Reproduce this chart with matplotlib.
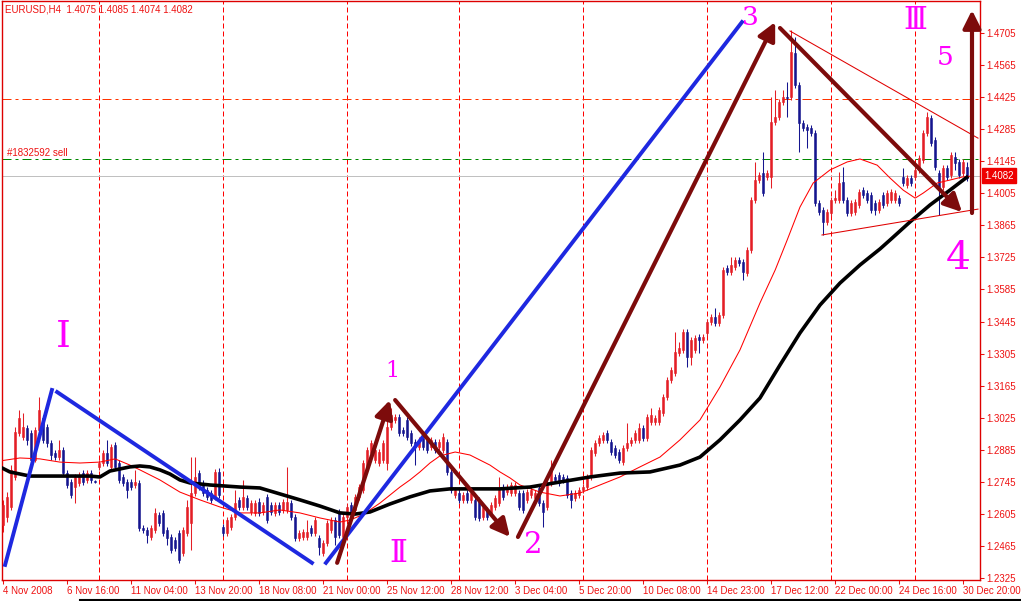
import numpy as np
import matplotlib
matplotlib.use('Agg')
import matplotlib.pyplot as plt
from matplotlib.lines import Line2D
from matplotlib.transforms import blended_transform_factory

plt.rcParams['font.family'] = ['Liberation Sans', 'DejaVu Sans']

# EURUSD H4 candles, 4 Nov 2008 .. 30 Dec 2008
opens = np.array([
    1.2557, 1.2592, 1.2635, 1.2766, 1.2958, 1.2940, 1.2980, 1.2958, 1.2840, 1.2971,
    1.3023, 1.2984, 1.2914, 1.2871, 1.2853, 1.2884, 1.2784, 1.2744, 1.2722, 1.2740,
    1.2784, 1.2753, 1.2784, 1.2749, 1.2810, 1.2827, 1.2871, 1.2810, 1.2906, 1.2827,
    1.2766, 1.2744, 1.2744, 1.2731, 1.2740, 1.2543, 1.2535, 1.2504, 1.2535, 1.2600,
    1.2609, 1.2535, 1.2504, 1.2491, 1.2522, 1.2434, 1.2522, 1.2565, 1.2696, 1.2784,
    1.2740, 1.2709, 1.2696, 1.2679, 1.2788, 1.2548, 1.2522, 1.2548, 1.2592, 1.2666,
    1.2635, 1.2674, 1.2613, 1.2609, 1.2657, 1.2613, 1.2679, 1.2644, 1.2609, 1.2644,
    1.2622, 1.2622, 1.2653, 1.2592, 1.2500, 1.2504, 1.2504, 1.2543, 1.2522, 1.2500,
    1.2434, 1.2478, 1.2535, 1.2578, 1.2613, 1.2504, 1.2592, 1.2644, 1.2622, 1.2679,
    1.2709, 1.2797, 1.2871, 1.2840, 1.2827, 1.2840, 1.2827, 1.2984, 1.3015, 1.3028,
    1.2971, 1.3015, 1.2958, 1.2919, 1.2897, 1.2936, 1.2928, 1.2897, 1.2919, 1.2897,
    1.2884, 1.2919, 1.2788, 1.2687, 1.2696, 1.2666, 1.2696, 1.2666, 1.2666, 1.2666,
    1.2592, 1.2622, 1.2609, 1.2635, 1.2653, 1.2722, 1.2701, 1.2696, 1.2696, 1.2696,
    1.2696, 1.2666, 1.2687, 1.2674, 1.2718, 1.2653, 1.2635, 1.2740, 1.2766, 1.2775,
    1.2766, 1.2762, 1.2696, 1.2674, 1.2687, 1.2709, 1.2722, 1.2766, 1.2871, 1.2914,
    1.2928, 1.2958, 1.2919, 1.2893, 1.2875, 1.2831, 1.2893, 1.2914, 1.2928, 1.2928,
    1.2980, 1.2936, 1.3006, 1.3006, 1.3006, 1.3045, 1.3115, 1.3190, 1.3220, 1.3307,
    1.3321, 1.3399, 1.3290, 1.3321, 1.3377, 1.3364, 1.3395, 1.3443, 1.3465, 1.3438,
    1.3473, 1.3679, 1.3661, 1.3683, 1.3714, 1.3705, 1.3657, 1.3757, 1.3976, 1.4063,
    1.4094, 1.4076, 1.4076, 1.4316, 1.4338, 1.4403, 1.4425, 1.4425, 1.4618, 1.4478,
    1.4312, 1.4294, 1.4290, 1.4268, 1.3962, 1.3932, 1.3880, 1.3919, 1.3976, 1.3976,
    1.4054, 1.3976, 1.3919, 1.3923, 1.3954, 1.4019, 1.4006, 1.3997, 1.3962, 1.3932,
    1.3997, 1.3962, 1.3976, 1.3976, 1.3984, 1.4076, 1.4041, 1.4072, 1.4076, 1.4107,
    1.4150, 1.4268, 1.4334, 1.4237, 1.4094, 1.4032, 1.4115, 1.4085, 1.4163, 1.4142,
    1.4094, 1.4120, 1.4075])
highs = np.array([
    1.2666, 1.2701, 1.2818, 1.2984, 1.3058, 1.3045, 1.2993, 1.2971, 1.2984, 1.3115,
    1.3036, 1.2997, 1.2928, 1.2884, 1.2928, 1.2897, 1.2797, 1.2757, 1.2779, 1.2788,
    1.2797, 1.2797, 1.2797, 1.2753, 1.2840, 1.2884, 1.2928, 1.2910, 1.2919, 1.2840,
    1.2779, 1.2757, 1.2757, 1.2797, 1.2753, 1.2557, 1.2548, 1.2557, 1.2631, 1.2613,
    1.2622, 1.2548, 1.2517, 1.2504, 1.2535, 1.2548, 1.2666, 1.2853, 1.2853, 1.2797,
    1.2753, 1.2722, 1.2709, 1.2801, 1.2805, 1.2561, 1.2592, 1.2605, 1.2709, 1.2679,
    1.2753, 1.2687, 1.2666, 1.2666, 1.2674, 1.2657, 1.2692, 1.2657, 1.2657, 1.2657,
    1.2670, 1.2810, 1.2666, 1.2605, 1.2535, 1.2539, 1.2578, 1.2557, 1.2592, 1.2513,
    1.2491, 1.2578, 1.2592, 1.2592, 1.2626, 1.2605, 1.2648, 1.2657, 1.2692, 1.2736,
    1.2840, 1.2897, 1.2928, 1.2897, 1.2888, 1.2928, 1.3080, 1.3067, 1.3041, 1.3041,
    1.2984, 1.3028, 1.2971, 1.2932, 1.2940, 1.2949, 1.2940, 1.2940, 1.2932, 1.2932,
    1.2958, 1.2932, 1.2801, 1.2722, 1.2709, 1.2701, 1.2709, 1.2709, 1.2679, 1.2679,
    1.2648, 1.2635, 1.2657, 1.2687, 1.2766, 1.2736, 1.2736, 1.2744, 1.2744, 1.2709,
    1.2709, 1.2714, 1.2722, 1.2709, 1.2731, 1.2666, 1.2753, 1.2840, 1.2779, 1.2788,
    1.2779, 1.2775, 1.2709, 1.2709, 1.2722, 1.2736, 1.2779, 1.2897, 1.2928, 1.2949,
    1.2962, 1.2971, 1.2932, 1.2906, 1.2888, 1.2906, 1.3002, 1.2940, 1.2971, 1.3002,
    1.2993, 1.3041, 1.3067, 1.3036, 1.3071, 1.3128, 1.3203, 1.3246, 1.3399, 1.3356,
    1.3412, 1.3412, 1.3377, 1.3386, 1.3390, 1.3390, 1.3456, 1.3478, 1.3504, 1.3487,
    1.3683, 1.3692, 1.3727, 1.3727, 1.3727, 1.3718, 1.3770, 1.3989, 1.4142, 1.4098,
    1.4185, 1.4107, 1.4425, 1.4456, 1.4417, 1.4456, 1.4491, 1.4718, 1.4687, 1.4491,
    1.4325, 1.4307, 1.4303, 1.4281, 1.3976, 1.3945, 1.3936, 1.3989, 1.4019, 1.4098,
    1.4120, 1.3989, 1.3976, 1.3980, 1.4024, 1.4032, 1.4019, 1.4011, 1.3976, 1.3980,
    1.4011, 1.4019, 1.4024, 1.4019, 1.3997, 1.4115, 1.4085, 1.4085, 1.4120, 1.4172,
    1.4281, 1.4360, 1.4347, 1.4251, 1.4107, 1.4128, 1.4128, 1.4185, 1.4185, 1.4155,
    1.4155, 1.4142, 1.4085])
lows = np.array([
    1.2526, 1.2570, 1.2622, 1.2753, 1.2945, 1.2928, 1.2906, 1.2827, 1.2831, 1.2958,
    1.2914, 1.2897, 1.2840, 1.2840, 1.2840, 1.2770, 1.2718, 1.2674, 1.2653, 1.2727,
    1.2731, 1.2740, 1.2740, 1.2740, 1.2797, 1.2814, 1.2814, 1.2797, 1.2797, 1.2740,
    1.2727, 1.2674, 1.2709, 1.2718, 1.2530, 1.2522, 1.2478, 1.2491, 1.2522, 1.2552,
    1.2508, 1.2469, 1.2434, 1.2443, 1.2391, 1.2421, 1.2508, 1.2447, 1.2683, 1.2709,
    1.2683, 1.2666, 1.2653, 1.2666, 1.2674, 1.2508, 1.2508, 1.2535, 1.2578, 1.2622,
    1.2622, 1.2622, 1.2600, 1.2596, 1.2596, 1.2600, 1.2565, 1.2600, 1.2596, 1.2600,
    1.2609, 1.2609, 1.2578, 1.2487, 1.2487, 1.2491, 1.2491, 1.2508, 1.2508, 1.2425,
    1.2421, 1.2465, 1.2522, 1.2469, 1.2500, 1.2491, 1.2578, 1.2596, 1.2609, 1.2666,
    1.2696, 1.2784, 1.2858, 1.2827, 1.2814, 1.2827, 1.2797, 1.2971, 1.3002, 1.2945,
    1.2945, 1.2928, 1.2901, 1.2818, 1.2884, 1.2884, 1.2871, 1.2884, 1.2871, 1.2884,
    1.2871, 1.2775, 1.2696, 1.2674, 1.2653, 1.2653, 1.2653, 1.2653, 1.2578, 1.2574,
    1.2578, 1.2578, 1.2596, 1.2622, 1.2639, 1.2666, 1.2687, 1.2683, 1.2683, 1.2622,
    1.2609, 1.2653, 1.2674, 1.2661, 1.2639, 1.2548, 1.2622, 1.2727, 1.2740, 1.2727,
    1.2740, 1.2674, 1.2631, 1.2661, 1.2674, 1.2696, 1.2709, 1.2753, 1.2858, 1.2901,
    1.2914, 1.2914, 1.2862, 1.2849, 1.2827, 1.2818, 1.2880, 1.2901, 1.2914, 1.2914,
    1.2923, 1.2923, 1.2993, 1.2993, 1.2993, 1.3032, 1.3102, 1.3176, 1.3207, 1.3294,
    1.3307, 1.3246, 1.3255, 1.3307, 1.3307, 1.3351, 1.3382, 1.3430, 1.3425, 1.3425,
    1.3460, 1.3648, 1.3648, 1.3670, 1.3687, 1.3626, 1.3644, 1.3744, 1.3962, 1.4050,
    1.3993, 1.4063, 1.4028, 1.4303, 1.4325, 1.4390, 1.4338, 1.4412, 1.4465, 1.4185,
    1.4277, 1.4203, 1.4255, 1.3949, 1.3910, 1.3823, 1.3866, 1.3906, 1.3962, 1.3962,
    1.3962, 1.3906, 1.3906, 1.3910, 1.3941, 1.3984, 1.3962, 1.3919, 1.3910, 1.3919,
    1.3941, 1.3949, 1.3962, 1.3962, 1.3949, 1.4037, 1.4028, 1.4037, 1.4063, 1.4094,
    1.4137, 1.4255, 1.4211, 1.4107, 1.3910, 1.4019, 1.4063, 1.4072, 1.4107, 1.4072,
    1.4081, 1.4059, 1.4074])
closes = np.array([
    1.2644, 1.2679, 1.2797, 1.2962, 1.3023, 1.2984, 1.2928, 1.2840, 1.2971, 1.3058,
    1.2928, 1.2914, 1.2862, 1.2853, 1.2884, 1.2784, 1.2731, 1.2687, 1.2766, 1.2775,
    1.2744, 1.2784, 1.2753, 1.2744, 1.2827, 1.2871, 1.2827, 1.2897, 1.2810, 1.2753,
    1.2740, 1.2709, 1.2722, 1.2744, 1.2543, 1.2535, 1.2513, 1.2543, 1.2609, 1.2565,
    1.2522, 1.2500, 1.2447, 1.2456, 1.2404, 1.2535, 1.2635, 1.2696, 1.2766, 1.2722,
    1.2696, 1.2679, 1.2666, 1.2788, 1.2687, 1.2522, 1.2578, 1.2592, 1.2653, 1.2635,
    1.2679, 1.2635, 1.2653, 1.2653, 1.2609, 1.2644, 1.2578, 1.2613, 1.2644, 1.2613,
    1.2657, 1.2657, 1.2592, 1.2500, 1.2522, 1.2526, 1.2526, 1.2522, 1.2578, 1.2460,
    1.2478, 1.2565, 1.2578, 1.2504, 1.2513, 1.2592, 1.2635, 1.2609, 1.2679, 1.2722,
    1.2827, 1.2884, 1.2914, 1.2884, 1.2875, 1.2914, 1.2984, 1.3036, 1.3028, 1.2958,
    1.2958, 1.2940, 1.2914, 1.2897, 1.2928, 1.2897, 1.2884, 1.2928, 1.2884, 1.2919,
    1.2940, 1.2788, 1.2709, 1.2709, 1.2666, 1.2687, 1.2666, 1.2696, 1.2592, 1.2587,
    1.2635, 1.2592, 1.2644, 1.2674, 1.2709, 1.2679, 1.2722, 1.2731, 1.2731, 1.2635,
    1.2622, 1.2701, 1.2709, 1.2696, 1.2653, 1.2613, 1.2740, 1.2797, 1.2753, 1.2740,
    1.2753, 1.2687, 1.2666, 1.2696, 1.2709, 1.2722, 1.2766, 1.2884, 1.2914, 1.2936,
    1.2949, 1.2928, 1.2875, 1.2862, 1.2840, 1.2893, 1.2914, 1.2928, 1.2958, 1.2980,
    1.2936, 1.3028, 1.3036, 1.3023, 1.3058, 1.3115, 1.3190, 1.3233, 1.3312, 1.3329,
    1.3399, 1.3290, 1.3364, 1.3373, 1.3364, 1.3377, 1.3443, 1.3465, 1.3438, 1.3473,
    1.3670, 1.3661, 1.3692, 1.3714, 1.3700, 1.3661, 1.3757, 1.3976, 1.4063, 1.4085,
    1.4006, 1.4094, 1.4316, 1.4338, 1.4403, 1.4425, 1.4421, 1.4622, 1.4478, 1.4312,
    1.4290, 1.4281, 1.4268, 1.3962, 1.3923, 1.3880, 1.3923, 1.3976, 1.3984, 1.4050,
    1.3976, 1.3919, 1.3962, 1.3967, 1.4011, 1.3997, 1.3976, 1.3932, 1.3932, 1.3967,
    1.3954, 1.4006, 1.4011, 1.4006, 1.3962, 1.4050, 1.4072, 1.4050, 1.4107, 1.4159,
    1.4268, 1.4338, 1.4224, 1.4120, 1.4032, 1.4115, 1.4076, 1.4172, 1.4137, 1.4085,
    1.4142, 1.4072, 1.4082])

# moving averages (thin red = fast, thick black = slow), sampled along the bars
ma_fast_x = [-0.7, 4.3, 9.3, 14.3, 19.3, 24.3, 28.1, 31.8, 34.3, 39.3, 44.3, 49.3,
             54.3, 59.3, 64.3, 69.3, 74.3, 79.3, 84.3, 86.8, 89.3, 91.8, 94.3, 96.8,
             99.3, 101.8, 104.3, 106.8, 109.3, 113.1, 116.8, 119.3, 121.8, 124.3,
             126.8, 129.3, 134.3, 139.3, 144.3, 149.3, 154.3, 159.3, 164.3, 169.3,
             174.3, 179.3, 184.3, 189.3, 193.1, 196.1, 199.3, 202.6, 206.8, 211.1,
             214.3, 218.6, 221.8, 225.1, 228.1, 230.1, 233.6, 236.8, 239.8, 242.0]
ma_fast_y = [1.2836, 1.2849, 1.2845, 1.2831, 1.2827, 1.2831, 1.2845, 1.2818, 1.2797,
             1.2753, 1.2700, 1.2666, 1.2635, 1.2609, 1.2609, 1.2622, 1.2609, 1.2587,
             1.2569, 1.2578, 1.2596, 1.2622, 1.2652, 1.2687, 1.2722, 1.2753, 1.2788,
             1.2827, 1.2858, 1.2875, 1.2862, 1.2840, 1.2818, 1.2788, 1.2762, 1.2731,
             1.2700, 1.2683, 1.2696, 1.2731, 1.2766, 1.2810, 1.2853, 1.2928, 1.3015,
             1.3159, 1.3321, 1.3526, 1.3670, 1.3801, 1.3945, 1.4050, 1.4107, 1.4142,
             1.4155, 1.4128, 1.4072, 1.4019, 1.3984, 1.4006, 1.4050, 1.4063, 1.4076,
             1.4080]
ma_slow_x = [-0.7, 1.8, 6.8, 14.3, 21.8, 24.3, 26.8, 31.8, 34.3, 36.8, 39.3, 41.8,
             44.3, 46.8, 51.8, 59.3, 64.3, 69.3, 74.3, 79.3, 84.3, 88.1, 91.8, 96.8,
             101.8, 106.8, 111.8, 124.3, 131.8, 139.3, 146.8, 154.3, 161.8, 169.3,
             174.3, 179.3, 184.3, 189.3, 194.3, 199.3, 204.3, 209.3, 214.3, 219.3,
             221.8, 226.8, 231.8, 236.8, 241.0]
ma_slow_y = [1.2810, 1.2788, 1.2770, 1.2770, 1.2770, 1.2766, 1.2792, 1.2810, 1.2814,
             1.2810, 1.2797, 1.2779, 1.2753, 1.2740, 1.2731, 1.2722, 1.2718, 1.2692,
             1.2666, 1.2639, 1.2609, 1.2604, 1.2613, 1.2648, 1.2679, 1.2705, 1.2714,
             1.2714, 1.2722, 1.2744, 1.2766, 1.2783, 1.2788, 1.2818, 1.2853, 1.2928,
             1.3015, 1.3111, 1.3255, 1.3395, 1.3517, 1.3613, 1.3692, 1.3762, 1.3801,
             1.3880, 1.3954, 1.4019, 1.4075]

tick_bars = list(range(0, 241, 16))
tick_labels = ['4 Nov 2008', '6 Nov 16:00', '11 Nov 04:00', '13 Nov 20:00',
               '18 Nov 08:00', '21 Nov 00:00', '25 Nov 12:00', '28 Nov 12:00',
               '3 Dec 04:00', '5 Dec 20:00', '10 Dec 08:00', '14 Dec 23:00',
               '17 Dec 12:00', '22 Dec 00:00', '24 Dec 16:00', '30 Dec 20:00']
week_bars = [24, 55, 86, 114, 145, 176, 207, 228]
price_ticks = [1.2325, 1.2465, 1.2605, 1.2745, 1.2885, 1.3025, 1.3165, 1.3305,
               1.3445, 1.3585, 1.3725, 1.3865, 1.4005, 1.4145, 1.4285, 1.4425,
               1.4565, 1.4705]

sell_level = 1.4155
tp_level = 1.4417
bid = 1.4082

# hand drawn objects: (bar0, price0, bar1, price1)
blue_lines = [(0.6, 1.2382, 12.3, 1.3146),
              (13.6, 1.3137, 77.3, 1.2391),
              (80.8, 1.2391, 184.8, 1.4753)]
wave_arrows = [(83.6, 1.2391, 96.8, 1.3102),
               (98.1, 1.3102, 126.8, 1.2504),
               (128.8, 1.2504, 193.1, 1.4753),
               (194.3, 1.4727, 239.8, 1.3923),
               (242.3, 1.3919, 242.3, 1.4805)]
triangle = [(196.8, 1.4714, 243.8, 1.4246),
            (204.8, 1.3823, 243.8, 1.3936)]
wave_marks = [('Ⅰ', 15.1, 1.3377, 27), ('1', 97.3, 1.3229, 16), ('Ⅱ', 98.8, 1.2430, 22),
              ('2', 132.6, 1.2469, 21), ('3', 186.8, 1.4775, 19), ('Ⅲ', 228.1, 1.4762, 22),
              ('5', 235.6, 1.4600, 19), ('4', 238.8, 1.3722, 28)]

red = '#ee1111'
bull = '#e41e26'
bear = '#15158f'
maroon = '#7d0b0b'

fig = plt.figure(figsize=(10.21, 6.01), dpi=100)
ax = fig.add_axes([2 / 1021, 21 / 601, 978 / 1021, 579 / 601])
ax.set_xlim(-0.175, 244.3)
ax.set_ylim(1.2316, 1.4845)

for b in week_bars:
    ax.axvline(b, color='#ff0000', lw=0.72, dashes=(5, 3), zorder=0)

ax.axhline(tp_level, color='#ff3300', lw=0.72, dashes=(9, 4, 3, 4), zorder=1)
ax.axhline(sell_level, color='#008800', lw=0.72, dashes=(9, 4, 3, 4), zorder=1)
ax.axhline(bid, color='#c0c0c0', lw=0.72, zorder=1)

bars = np.arange(len(closes))
colors = np.where(closes >= opens, bull, bear)
ax.vlines(bars, lows, highs, colors=colors, lw=0.75, zorder=2)
ax.bar(bars, np.abs(closes - opens), bottom=np.minimum(opens, closes), width=0.55,
       color=colors, edgecolor=colors, linewidth=0.4, zorder=3)

ax.plot(ma_fast_x, ma_fast_y, color='#ff0000', lw=0.75, zorder=4)
ax.plot(ma_slow_x, ma_slow_y, color='black', lw=2.6, zorder=4)

for x0, y0, x1, y1 in triangle:
    ax.plot([x0, x1], [y0, y1], color='#e00000', lw=0.75, zorder=5)
for x0, y0, x1, y1 in blue_lines:
    ax.plot([x0, x1], [y0, y1], color='#1e28e0', lw=2.8, zorder=5)
for x0, y0, x1, y1 in wave_arrows:
    ax.annotate('', xy=(x1, y1), xytext=(x0, y0),
                arrowprops=dict(arrowstyle='-|>,head_length=0.9,head_width=0.45',
                                color=maroon, lw=3, shrinkA=0, shrinkB=0,
                                mutation_scale=12), zorder=6)

for txt, x, y, size in wave_marks:
    ax.text(x, y, txt, color='#ff00ff', fontsize=size, ha='center', va='center',
            family=['DejaVu Serif', 'DejaVu Sans'], zorder=7)

ax.text(1.0, sell_level + 0.0004, '#1832592 sell', color=red, fontsize=7, va='bottom')
fig.text(5 / 1021, 1 - 4 / 601, 'EURUSD,H4  1.4075 1.4085 1.4074 1.4082',
         color=red, fontsize=7, va='top')

ax.set_xticks(tick_bars)
ax.set_xticklabels(tick_labels, ha='left')
ax.tick_params(axis='x', colors=red, labelsize=7, length=3, width=0.75, pad=1.5)
ax.yaxis.tick_right()
ax.set_yticks(price_ticks)
ax.set_yticklabels(['%.4f' % p for p in price_ticks])
ax.tick_params(axis='y', colors=red, labelsize=7, length=3, width=0.75, pad=1.5)
for s in ax.spines.values():
    s.set_color('#dd0000')
    s.set_linewidth(1)

trans = blended_transform_factory(ax.transAxes, ax.transData)
ax.annotate('%.4f' % bid, xy=(1.0, bid), xycoords=trans, xytext=(3, 0),
            textcoords='offset points', color='white', fontsize=7, va='center',
            ha='left', bbox=dict(boxstyle='square,pad=0.25', fc='#ee0000', ec='#ee0000'),
            annotation_clip=False)

fig.add_artist(Line2D([80 / 1021, 1], [0.6 / 601, 0.6 / 601], color='black', lw=1.5))

fig.savefig('out.png', dpi=100, facecolor='white')
